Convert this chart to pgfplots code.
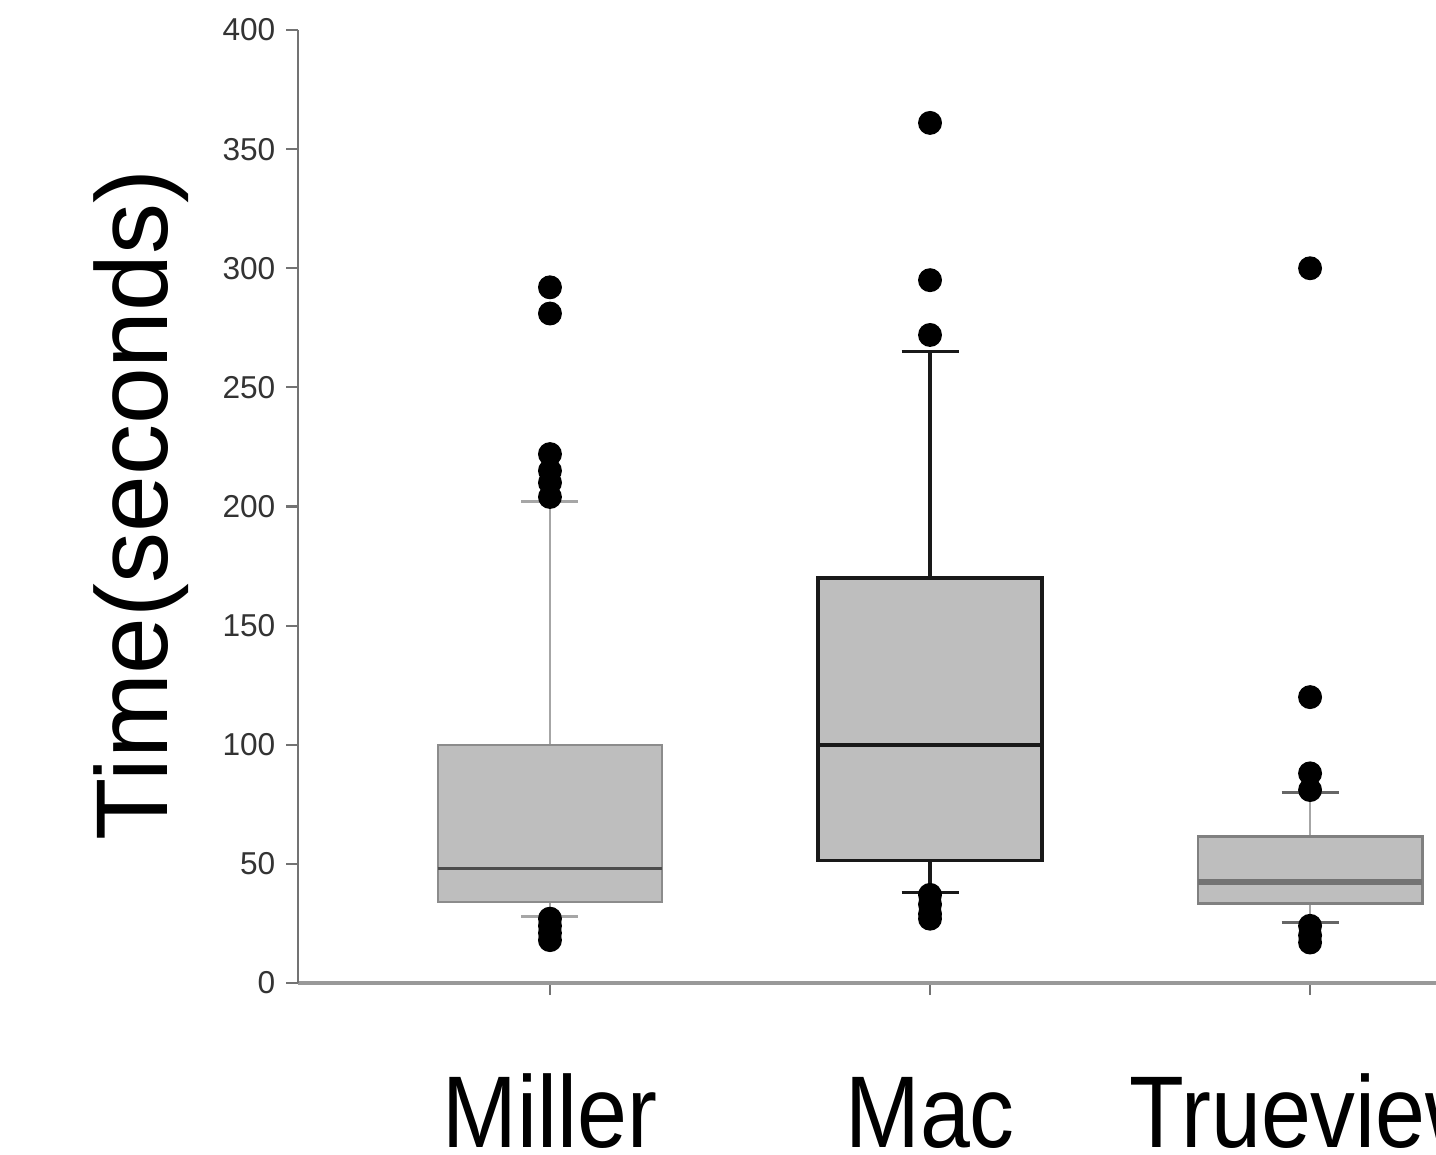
\documentclass[border=0pt]{standalone}
\usepackage{pgfplots}
\pgfplotsset{compat=1.18}
\usepackage{fontspec}
\setmainfont{Liberation Sans}
\newfontfamily\narrowfont[FakeStretch=0.88]{Liberation Sans}
\definecolor{boxfill}{HTML}{BEBEBE}
\begin{document}
\begin{tikzpicture}
\begin{axis}[
  at={(2.98cm,1.71cm)}, anchor=south west,
  scale only axis, width=12.64cm, height=9.53cm,
  xmin=0.337, xmax=3.663, ymin=0, ymax=400,
  axis x line*=bottom, axis y line*=left,
  x axis line style={draw=black!40, line width=1.1pt},
  y axis line style={draw=black!55, line width=0.6pt},
  ytick={0,50,100,150,200,250,300,350,400},
  xtick={1,2,3},
  xticklabels={Miller,Mac,Trueview},
  tick align=outside,
  major tick length=1.2mm,
  tick style={draw=black!55, line width=0.6pt},
  /pgf/number format/assume math mode=true,
  yticklabel style={font=\fontsize{9}{10}\selectfont, text=black!80, inner sep=0pt, xshift=-1mm},
  xticklabel style={font=\narrowfont\fontsize{29}{30}\selectfont, anchor=base, inner sep=0pt, yshift=-15.2mm},
  clip=false,
]
% ---------- Miller (x=1) ----------
\addplot[draw=black!35, line width=0.8pt] coordinates {(1,100) (1,202)};
\addplot[draw=black!35, line width=0.8pt] coordinates {(0.925,202) (1.075,202)};
\addplot[draw=black!35, line width=0.8pt] coordinates {(1,34) (1,28)};
\addplot[draw=black!35, line width=0.8pt] coordinates {(0.925,28) (1.075,28)};
\addplot[draw=black!45, fill=boxfill, line width=0.7pt] coordinates {(0.705,34) (1.295,34) (1.295,100) (0.705,100)} -- cycle;
\addplot[draw=black!70, line width=1.0pt] coordinates {(0.705,48) (1.295,48)};
\addplot[only marks, mark=*, mark size=3.2pt, mark options={fill=black, draw=black}]
  coordinates {(1,292) (1,281) (1,222) (1,215) (1,210) (1,204) (1,27) (1,24) (1,21) (1,18)};
% ---------- Mac (x=2) ----------
\addplot[draw=black!90, line width=1.0pt] coordinates {(2,170) (2,265)};
\addplot[draw=black!90, line width=1.0pt] coordinates {(1.925,265) (2.075,265)};
\addplot[draw=black!90, line width=1.0pt] coordinates {(2,51.5) (2,38)};
\addplot[draw=black!90, line width=1.0pt] coordinates {(1.925,38) (2.075,38)};
\addplot[draw=black!90, fill=boxfill, line width=1.0pt] coordinates {(1.705,51.5) (2.295,51.5) (2.295,170) (1.705,170)} -- cycle;
\addplot[draw=black!90, line width=1.0pt] coordinates {(1.705,100) (2.295,100)};
\addplot[only marks, mark=*, mark size=3.2pt, mark options={fill=black, draw=black}]
  coordinates {(2,361) (2,295) (2,272) (2,37) (2,33) (2,29) (2,27)};
% ---------- Trueview (x=3) ----------
\addplot[draw=black!35, line width=0.7pt] coordinates {(3,61.5) (3,80)};
\addplot[draw=black!60, line width=0.8pt] coordinates {(2.925,80) (3.075,80)};
\addplot[draw=black!35, line width=0.7pt] coordinates {(3,33.5) (3,25.5)};
\addplot[draw=black!60, line width=0.8pt] coordinates {(2.925,25.5) (3.075,25.5)};
\addplot[draw=black!50, fill=boxfill, line width=0.8pt] coordinates {(2.705,33.5) (3.295,33.5) (3.295,61.5) (2.705,61.5)} -- cycle;
\addplot[draw=black!55, line width=1.6pt] coordinates {(2.705,42.5) (3.295,42.5)};
\addplot[only marks, mark=*, mark size=3.2pt, mark options={fill=black, draw=black}]
  coordinates {(3,300) (3,120) (3,88) (3,81) (3,24) (3,20) (3,17)};
\end{axis}
\node[rotate=90, anchor=base, font=\fontsize{29}{30}\selectfont] at (1.67,6.49) {Time(seconds)};
\pgfresetboundingbox
\useasboundingbox (0,0) rectangle (14.36,11.54);
\end{tikzpicture}
\end{document}
